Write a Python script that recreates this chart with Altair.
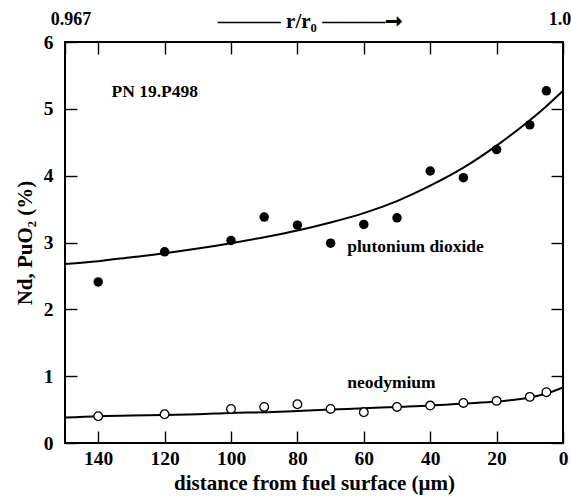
import altair as alt
import pandas as pd

# ---- data ----
dist_pts = [140, 120, 100, 90, 80, 70, 60, 50, 40, 30, 20, 10, 5]
puo2_pts = [2.41, 2.86, 3.03, 3.38, 3.26, 2.99, 3.27, 3.37, 4.07, 3.97, 4.39, 4.76, 5.27]
nd_pts = [0.40, 0.43, 0.51, 0.54, 0.58, 0.51, 0.46, 0.54, 0.56, 0.60, 0.63, 0.69, 0.76]

fit_dist = [150, 140, 130, 120, 110, 100, 90, 80, 70, 60, 50, 40, 30, 20, 10, 5, 0]
puo2_fit = [2.68, 2.72, 2.78, 2.84, 2.91, 2.99, 3.08, 3.18, 3.30, 3.44, 3.62, 3.85, 4.12, 4.45, 4.83, 5.04, 5.27]
nd_fit = [0.38, 0.40, 0.41, 0.42, 0.43, 0.45, 0.46, 0.48, 0.50, 0.52, 0.54, 0.56, 0.59, 0.62, 0.68, 0.74, 0.83]

x_ticks = [140, 120, 100, 80, 60, 40, 20, 0]
y_ticks = [0, 1, 2, 3, 4, 5, 6]
top_labels = ["0.967", "1.0"]
top_label_at = [150, 0]

ann_text = ["PN 19.P498", "plutonium dioxide", "neodymium"]
ann_x = [136, 65, 65]
ann_y = [5.25, 2.93, 0.90]

FONT = "Liberation Serif"
TICK = 12

pts = pd.DataFrame({"d": dist_pts, "pu": puo2_pts, "nd": nd_pts})
fit = pd.DataFrame({"d": fit_dist, "pu": puo2_fit, "nd": nd_fit})
ann = pd.DataFrame({"t": ann_text, "x": ann_x, "y": ann_y})

xscale = alt.Scale(domain=[0, 150], reverse=True, nice=False)
yscale = alt.Scale(domain=[0, 6], nice=False)

common = dict(offset=-TICK, tickSize=TICK, domain=False, tickColor="black", tickWidth=1.4,
              labelFont=FONT, labelFontWeight="bold", labelFontSize=19.5, labelColor="black",
              labelFlush=False,
              titleFont=FONT, titleFontWeight="bold", titleFontSize=21, titleColor="black",
              grid=False)

xaxis = alt.Axis(values=x_ticks, title="distance from fuel surface (μm)",
                 labelPadding=6, titlePadding=5, **common)
yaxis = alt.Axis(values=y_ticks, title="Nd, PuO₂ (%)",
                 labelPadding=12, titlePadding=8, **common)

X = alt.X("d:Q", scale=xscale, axis=xaxis)

pu_line = alt.Chart(fit).mark_line(color="black", strokeWidth=2, interpolate="monotone").encode(
    x=X, y=alt.Y("pu:Q", scale=yscale, axis=yaxis))
nd_line = alt.Chart(fit).mark_line(color="black", strokeWidth=2, interpolate="monotone").encode(
    x=X, y=alt.Y("nd:Q", scale=yscale, axis=yaxis))
pu_dots = alt.Chart(pts).mark_circle(color="black", size=90, opacity=1).encode(
    x=X, y=alt.Y("pu:Q", scale=yscale, axis=yaxis))
nd_dots = alt.Chart(pts).mark_point(shape="circle", filled=True, fill="white", stroke="black",
                                    strokeWidth=1.3, size=75, opacity=1).encode(
    x=X, y=alt.Y("nd:Q", scale=yscale, axis=yaxis))
texts = alt.Chart(ann).mark_text(font=FONT, fontWeight="bold", fontSize=17.5, align="left",
                                 baseline="middle", color="black").encode(
    x=alt.X("x:Q", scale=xscale, axis=xaxis), y=alt.Y("y:Q", scale=yscale, axis=yaxis), text="t:N")

main = alt.layer(pu_line, nd_line, pu_dots, nd_dots, texts)

# ---- overlay: top (r/r0) and right axes ----
frame = pd.DataFrame({"d": [150, 0], "v": [0, 6]})
tops = pd.DataFrame({"d": top_label_at, "t": top_labels, "v": [6, 6]})

top_x_axis = alt.Axis(orient="top", values=[150] + x_ticks, labels=False,
                      title="———  r/r₀  ———➞", titleX=245, titleY=-23, **common)
right_y_axis = alt.Axis(orient="right", values=y_ticks, labels=False, title=None, **common)

XT = alt.X("d:Q", scale=xscale, axis=top_x_axis)
YR = alt.Y("v:Q", scale=yscale, axis=right_y_axis)

frame_pts = alt.Chart(frame).mark_point(opacity=0).encode(x=XT, y=YR)
top_left = alt.Chart(tops).transform_filter("datum.d == 150").mark_text(
    font=FONT, fontWeight="bold", fontSize=18, align="center", baseline="middle",
    color="black", dy=-22, dx=6, clip=False).encode(x=XT, y=YR, text="t:N")
top_right = alt.Chart(tops).transform_filter("datum.d == 0").mark_text(
    font=FONT, fontWeight="bold", fontSize=18, align="center", baseline="middle",
    color="black", dy=-22, dx=-3, clip=False).encode(x=XT, y=YR, text="t:N")

overlay = alt.layer(frame_pts, top_left, top_right)

chart = alt.layer(main, overlay).resolve_scale(x="independent", y="independent").properties(
    width=498, height=401,
    padding={"left": 65, "top": 42, "right": 8, "bottom": 54},
    autosize="none", background="white",
).configure_view(stroke="black", strokeWidth=2)

chart.save("out.html", embed_options={"renderer": "svg", "actions": False})
